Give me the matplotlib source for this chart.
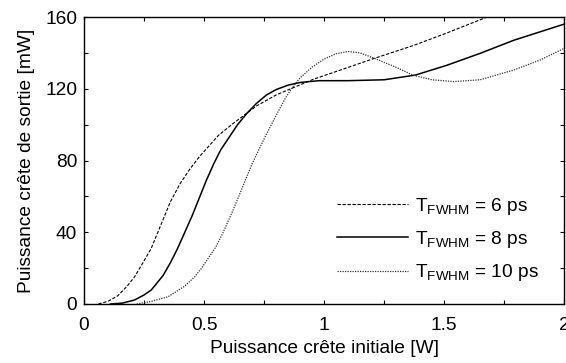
import numpy as np
import matplotlib.pyplot as plt

plt.rcParams['font.family'] = ['Liberation Sans', 'DejaVu Sans']
plt.rcParams['mathtext.fontset'] = 'custom'
plt.rcParams['mathtext.rm'] = 'Liberation Sans'
plt.rcParams['font.size'] = 13.8

x6 = [0.06, 0.10, 0.14, 0.18, 0.21, 0.25, 0.28, 0.32, 0.36, 0.40, 0.44, 0.48,
      0.52, 0.56, 0.62, 0.67, 0.72, 0.80, 0.87, 0.96, 1.07, 1.20, 1.37, 1.51,
      1.68, 1.72]
y6 = [0, 1.5, 4.5, 10, 15, 24, 31, 44, 57, 67, 75, 82,
      88, 94, 100.5, 105.5, 110.5, 116.5, 120.5, 125.5, 130.5, 136.5, 144, 151,
      160, 162]

x8 = [0.11, 0.16, 0.21, 0.25, 0.28, 0.30, 0.33, 0.36, 0.39, 0.42, 0.45, 0.48,
      0.51, 0.54, 0.57, 0.60, 0.64, 0.68, 0.72, 0.76, 0.80, 0.85, 0.90, 0.98,
      1.10, 1.25, 1.38, 1.51, 1.65, 1.79, 2.0]
y8 = [0, 0.5, 2.2, 5, 7.8, 11, 16, 23, 31, 40, 49, 59,
      69, 78, 86, 92, 100, 106.5, 112, 116.5, 119.5, 122, 123.5, 124.5,
      124.5, 125, 127.6, 133, 139.7, 147, 156]

x10 = [0.22, 0.28, 0.35, 0.42, 0.46, 0.49, 0.52, 0.55, 0.58, 0.62, 0.66, 0.70,
       0.75, 0.80, 0.84, 0.87, 0.90, 0.95, 1.0, 1.05, 1.10, 1.15, 1.2, 1.3,
       1.37, 1.45, 1.54, 1.65, 1.79, 1.9, 2.0]
y10 = [0, 1.5, 4, 10, 15, 20, 26, 32, 40, 52, 65, 78,
       92, 105, 115, 121, 126, 132, 136.5, 139.5, 140.8, 140, 137.5, 132,
       127.6, 125, 124, 125, 130.4, 136, 142.5]

labels = [r'T$_{\mathrm{FWHM}}$ = 6 ps', r'T$_{\mathrm{FWHM}}$ = 8 ps',
          r'T$_{\mathrm{FWHM}}$ = 10 ps']

xticks = np.arange(0, 2.01, 0.25)
xticklabels = ['0', '', '0.5', '', '1', '', '1.5', '', '2']
yticks = np.arange(0, 161, 20)
yticklabels = ['0', '', '40', '', '80', '', '120', '', '160']

fig = plt.figure(figsize=(5.66, 3.63), dpi=100)
ax = fig.add_axes([84 / 566, 59 / 363, 480 / 566, 287 / 363])

ax.plot(x6, y6, color='black', linestyle=(0, (3, 1.5)), linewidth=0.8, label=labels[0])
ax.plot(x8, y8, color='black', linestyle='-', linewidth=1.1, label=labels[1])
ax.plot(x10, y10, color='#333333', linestyle=(0, (1, 1)), linewidth=0.9, label=labels[2])

ax.set_xlim(0, 2)
ax.set_ylim(0, 160)
ax.set_xticks(xticks)
ax.set_xticklabels(xticklabels)
ax.set_yticks(yticks)
ax.set_yticklabels(yticklabels)
ax.tick_params(direction='in', length=3, width=0.8, top=True, right=True)
ax.tick_params(axis='x', pad=9)
ax.tick_params(axis='y', pad=5)
for s in ax.spines.values():
    s.set_linewidth(1.0)

ax.set_xlabel('Puissance crête initiale [W]', labelpad=5)
ax.set_ylabel('Puissance crête de sortie [mW]', labelpad=7)

ax.legend(loc='lower right', bbox_to_anchor=(0.975, 0.025), frameon=False,
          handlelength=3.7, handletextpad=0.35, labelspacing=0.64, borderpad=0.2)

fig.savefig('out.png', dpi=100)
